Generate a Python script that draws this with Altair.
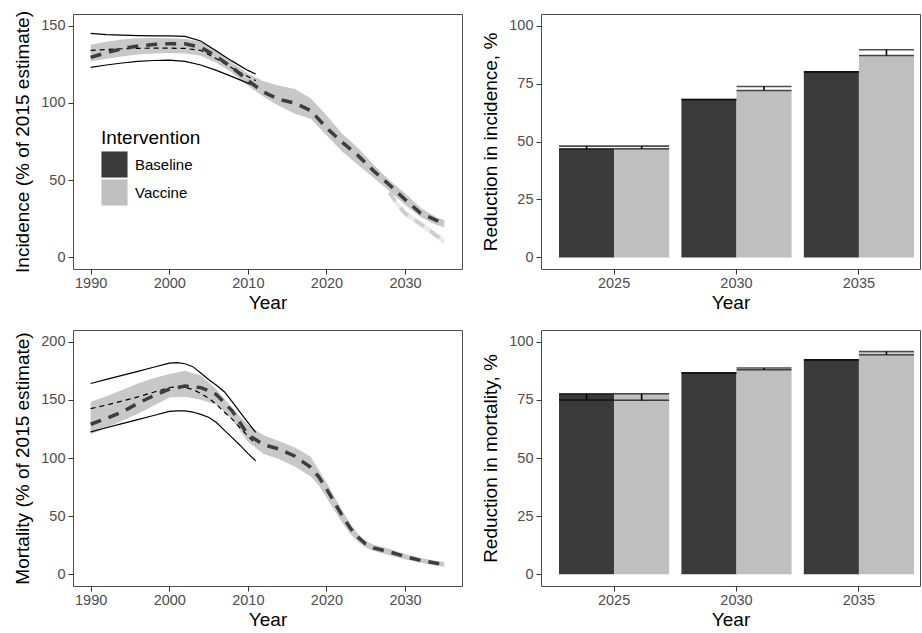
import altair as alt
import pandas as pd

FONT = "Liberation Sans"

# ---------------- Incidence (top-left) ----------------
inc_base_years = [1990, 1992, 1994, 1996, 1998, 2000, 2002, 2004, 2006, 2008, 2010, 2011]
inc_base_upper = [144.9, 144.2, 143.8, 143.5, 143.3, 143.3, 143.0, 140.0, 133.5, 127.0, 121.0, 118.7]
inc_base_lower = [123.0, 124.5, 125.8, 126.8, 127.4, 127.7, 126.8, 124.5, 121.0, 117.0, 112.8, 110.8]
inc_base_mid = [134.0, 134.5, 135.0, 135.3, 135.4, 135.4, 135.2, 134.0, 128.5, 122.5, 117.0, 114.4]

inc_vac_years = [1990, 1992, 1994, 1996, 1998, 2000, 2002, 2004, 2006, 2008, 2010, 2012,
                 2014, 2016, 2018, 2020, 2022, 2024, 2026, 2028, 2030, 2032, 2034, 2035]
inc_vac_mid = [129.4, 132.5, 135.0, 136.8, 137.8, 138.3, 138.2, 136.0, 130.0, 123.0, 114.5, 107.0,
               102.2, 99.8, 95.0, 84.0, 74.5, 66.0, 56.0, 47.0, 37.5, 28.5, 24.0, 22.0]
inc_vac_upper = [137.6, 139.5, 141.0, 141.8, 142.0, 141.8, 141.5, 139.5, 134.0, 126.0, 119.0, 114.0,
                 111.0, 109.0, 103.0, 92.0, 80.0, 71.0, 60.0, 50.0, 41.5, 32.0, 26.0, 24.0]
inc_vac_lower = [126.8, 128.5, 130.0, 131.3, 132.0, 132.2, 132.0, 130.5, 126.0, 119.5, 111.0, 104.0,
                 98.0, 93.0, 89.8, 79.0, 68.5, 60.0, 51.5, 43.0, 34.0, 26.0, 21.0, 19.5]

inc_alt_years = [2028, 2029, 2030, 2031, 2032, 2033, 2034, 2035]
inc_alt_mid = [42.0, 34.5, 28.5, 25.0, 21.5, 18.0, 14.0, 10.5]
inc_alt_upper = [43.5, 36.5, 30.5, 27.0, 23.5, 20.0, 16.0, 12.5]
inc_alt_lower = [40.5, 32.5, 26.5, 23.0, 19.5, 16.0, 12.0, 8.5]

# ---------------- Mortality (bottom-left) ----------------
mort_base_years = [1990, 1992, 1994, 1996, 1998, 2000, 2001, 2002, 2003, 2004, 2005, 2006,
                   2007, 2008, 2009, 2010, 2011]
mort_base_upper = [164.0, 167.5, 171.0, 174.5, 178.0, 181.5, 182.0, 181.0, 178.5, 173.0, 167.5, 162.5,
                   157.0, 148.5, 139.5, 130.7, 122.0]
mort_base_lower = [122.5, 126.0, 129.5, 133.0, 136.5, 140.0, 140.5, 140.5, 139.5, 137.5, 135.0, 130.5,
                   124.0, 117.5, 111.0, 104.0, 97.5]
mort_base_mid = [142.5, 145.5, 149.0, 152.5, 156.5, 160.6, 161.2, 160.5, 159.0, 155.5, 151.5, 146.0,
                 139.5, 133.4, 126.0, 119.0, 111.9]

mort_vac_years = [1990, 1992, 1994, 1996, 1998, 2000, 2002, 2004, 2005, 2006, 2008, 2010, 2012,
                  2014, 2016, 2018, 2019, 2020, 2021, 2022, 2023, 2024, 2025, 2026, 2028, 2030,
                  2032, 2034, 2035]
mort_vac_mid = [129.0, 134.0, 139.5, 147.0, 153.5, 159.2, 161.8, 160.5, 158.0, 154.5, 140.5, 120.0, 111.5,
                107.6, 101.5, 92.0, 84.0, 73.5, 62.0, 50.5, 40.0, 32.0, 26.0, 22.8, 19.3, 15.3,
                12.0, 9.6, 8.6]
mort_vac_upper = [148.3, 153.0, 158.5, 164.0, 168.5, 172.1, 175.0, 171.0, 165.0, 159.0, 143.0, 128.5, 119.5,
                  114.5, 109.0, 101.0, 90.0, 79.0, 67.0, 55.0, 44.0, 35.0, 28.7, 25.5, 22.0, 17.5,
                  14.0, 11.5, 10.5]
mort_vac_lower = [120.5, 126.0, 132.0, 138.0, 145.0, 152.0, 152.6, 150.0, 148.0, 146.0, 133.0, 114.0, 103.5,
                  99.0, 92.5, 84.0, 76.5, 66.0, 55.0, 44.5, 35.0, 28.0, 23.0, 20.0, 16.5, 13.0,
                  10.0, 7.5, 6.5]

# ---------------- Bars ----------------
bar_years = ["2025", "2030", "2035"]
groups = ["Baseline", "Vaccine"]

inc_base_val = [46.9, 68.1, 80.1]
inc_base_lo = [46.9, 68.1, 80.1]
inc_base_hi = [48.0, 68.1, 80.1]
inc_vac_val = [46.9, 72.0, 87.1]
inc_vac_lo = [46.9, 72.0, 87.1]
inc_vac_hi = [48.0, 73.7, 89.6]

mort_base_val = [77.6, 86.6, 92.2]
mort_base_lo = [74.9, 86.6, 92.2]
mort_base_hi = [77.6, 86.6, 92.2]
mort_vac_val = [77.6, 88.0, 94.4]
mort_vac_lo = [74.8, 87.9, 94.4]
mort_vac_hi = [77.6, 88.7, 95.7]

COL_BASE = "#3a3a3a"
COL_VAC = "#bfbfbf"
RIBBON = "#c8c8c8"
THICK = "#3d3d3d"

XDOM = [1987.75, 2037.25]


def band_df(years, lo, mid, hi):
    return pd.DataFrame({"year": years, "lo": lo, "mid": mid, "hi": hi})


def yaxis(title, values):
    return alt.Axis(title=title, values=values, grid=False, domain=False, tickSize=5,
                    tickColor="#333333", labelColor="#4d4d4d", labelFontSize=14.5,
                    labelPadding=3, titleFontSize=19, titleFontWeight="normal",
                    titleColor="black", titlePadding=8)


def xaxis_year():
    return alt.Axis(title="Year", values=[1990, 2000, 2010, 2020, 2030], format="d", grid=False,
                    domain=False, tickSize=5, tickColor="#333333", labelColor="#4d4d4d",
                    labelFontSize=14.5, labelPadding=2, labelFlush=False, titleFontSize=19,
                    titleFontWeight="normal", titleColor="black", titlePadding=4)


def line_panel(ytitle, ydom, yvals, base, vac, alt_band=None, legend=False, height=255):
    xs = alt.X("year:Q", scale=alt.Scale(domain=XDOM, nice=False, zero=False), axis=xaxis_year())
    ysc = alt.Scale(domain=ydom, nice=False, zero=False)
    layers = []
    if alt_band is not None:
        a = alt.Chart(alt_band)
        layers.append(a.mark_area(color="#ebebeb").encode(
            x=xs, y=alt.Y("lo:Q", scale=ysc, axis=yaxis(ytitle, yvals)), y2="hi:Q"))
        layers.append(a.mark_line(color="#cdcdcd", strokeWidth=3.5, strokeDash=[11, 8]).encode(
            x=xs, y=alt.Y("mid:Q", scale=ysc)))
    v = alt.Chart(vac)
    layers.append(v.mark_area(color=RIBBON).encode(
        x=xs, y=alt.Y("lo:Q", scale=ysc, axis=yaxis(ytitle, yvals)), y2="hi:Q"))
    b = alt.Chart(base)
    layers.append(b.mark_line(color="black", strokeWidth=1.2).encode(
        x=xs, y=alt.Y("hi:Q", scale=ysc)))
    layers.append(b.mark_line(color="black", strokeWidth=1.2).encode(
        x=xs, y=alt.Y("lo:Q", scale=ysc)))
    layers.append(b.mark_line(color="black", strokeWidth=1.2, strokeDash=[5, 4]).encode(
        x=xs, y=alt.Y("mid:Q", scale=ysc)))
    layers.append(v.mark_line(color=THICK, strokeWidth=3.5, strokeDash=[11, 8]).encode(
        x=xs, y=alt.Y("mid:Q", scale=ysc)))
    if legend:
        leg_df = pd.DataFrame({"Intervention": groups})
        layers.append(alt.Chart(leg_df).mark_square(size=0, opacity=1).encode(
            x=alt.value(0), y=alt.value(0),
            color=alt.Color("Intervention:N",
                            scale=alt.Scale(domain=groups, range=[COL_BASE, COL_VAC]),
                            legend=alt.Legend(orient="none", legendX=28, legendY=115,
                                              title="Intervention", titleFontSize=19,
                                              titleFontWeight="normal", titleColor="black",
                                              titlePadding=3, labelFontSize=15,
                                              labelColor="black", labelOffset=7,
                                              symbolType="square", symbolSize=680,
                                              symbolStrokeWidth=0, symbolOpacity=1,
                                              rowPadding=1, padding=0))))
    return alt.layer(*layers).properties(width=389, height=height)


def bar_panel(ytitle, bval, blo, bhi, vval, vlo, vhi, height=255):
    df = pd.DataFrame({
        "year": bar_years * 2,
        "Intervention": ["Baseline"] * 3 + ["Vaccine"] * 3,
        "val": bval + vval,
        "lo": blo + vlo,
        "hi": bhi + vhi,
    })
    xs = alt.X("year:N", scale=alt.Scale(paddingInner=0.1, paddingOuter=0.098, align=0.75),
               axis=alt.Axis(title="Year", labelAngle=0, grid=False, domain=False, tickSize=5,
                             tickColor="#333333", labelColor="#4d4d4d", labelFontSize=14.5,
                             labelPadding=2, titleFontSize=19, titleFontWeight="normal",
                             titleColor="black", titlePadding=4))
    xo = alt.XOffset("Intervention:N", scale=alt.Scale(domain=groups, paddingInner=0, paddingOuter=0))
    ysc = alt.Scale(domain=[-5, 105], nice=False, zero=False)
    base = alt.Chart(df)
    bars = base.mark_bar().encode(
        x=xs, xOffset=xo,
        y=alt.Y("val:Q", scale=ysc, axis=yaxis(ytitle, [0, 25, 50, 75, 100])),
        y2=alt.datum(0),
        color=alt.Color("Intervention:N", scale=alt.Scale(domain=groups, range=[COL_BASE, COL_VAC]),
                        legend=None))
    t_hi = base.mark_tick(orient="horizontal", size=55, thickness=1.6, color="black").encode(
        x=xs, xOffset=xo, y=alt.Y("hi:Q", scale=ysc))
    t_lo = base.mark_tick(orient="horizontal", size=55, thickness=1.6, color="black").encode(
        x=xs, xOffset=xo, y=alt.Y("lo:Q", scale=ysc))
    vr = base.mark_rule(color="black", strokeWidth=1.6).encode(
        x=xs, xOffset=xo, y=alt.Y("lo:Q", scale=ysc), y2="hi:Q")
    return alt.layer(bars, t_hi, t_lo, vr).properties(width=379, height=height)


tl = line_panel("Incidence (% of 2015 estimate)", [-7.5, 157.5], [0, 50, 100, 150],
                band_df(inc_base_years, inc_base_lower, inc_base_mid, inc_base_upper),
                band_df(inc_vac_years, inc_vac_lower, inc_vac_mid, inc_vac_upper),
                alt_band=band_df(inc_alt_years, inc_alt_lower, inc_alt_mid, inc_alt_upper),
                legend=True, height=255)
bl = line_panel("Mortality (% of 2015 estimate)", [-10, 210], [0, 50, 100, 150, 200],
                band_df(mort_base_years, mort_base_lower, mort_base_mid, mort_base_upper),
                band_df(mort_vac_years, mort_vac_lower, mort_vac_mid, mort_vac_upper),
                height=256)
tr = bar_panel("Reduction in incidence, %", inc_base_val, inc_base_lo, inc_base_hi,
               inc_vac_val, inc_vac_lo, inc_vac_hi, height=255)
br = bar_panel("Reduction in mortality, %", mort_base_val, mort_base_lo, mort_base_hi,
               mort_vac_val, mort_vac_lo, mort_vac_hi, height=256)

chart = alt.concat(
    tl, tr, bl, br, columns=2, spacing={"row": 61, "column": 79}, bounds="flush"
).resolve_scale(
    color="independent", x="independent", y="independent"
).properties(
    padding={"left": 13, "top": 10, "right": 0, "bottom": 0},
    background="white",
).configure(font=FONT).configure_view(stroke="#4d4d4d", strokeWidth=1)

chart.save("out.html", embed_options={"renderer": "svg", "actions": False})
